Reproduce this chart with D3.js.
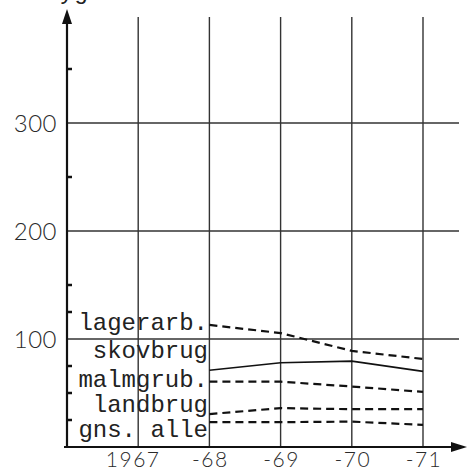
<!DOCTYPE html>
<html>
<head>
<meta charset="utf-8">
<script src="https://cdn.jsdelivr.net/npm/d3@7"></script>
<style>
  body { margin: 0; background: #fff; }
  svg { display: block; }
  .lbl { font-family: "Liberation Mono", "DejaVu Sans Mono", monospace; font-size: 24px; fill: #222; }
  .tick-lbl { font-family: Lato, "DejaVu Sans", sans-serif; font-weight: 300; fill: #2a2a2a; }
</style>
</head>
<body>
<svg id="chart" width="475" height="472"></svg>
<script>
// years on x, value on y
var years = [1968, 1969, 1970, 1971];
var gridYears = [1967, 1968, 1969, 1970, 1971];
var xLabels = ["1967", "-68", "-69", "-70", "-71"];
var yGrid = [100, 200, 300];
var yMinor = [25, 50, 75, 125, 150, 250, 350];

var series = ["lagerarb.", "skovbrug", "malmgrub.", "landbrug", "gns. alle"];
var lagerarb = [113, 105.5, 89, 81.5];
var skovbrug = [71, 78, 79.5, 70];
var malmgrub = [60.5, 60.5, 56, 51];
var landbrug = [30.5, 36, 35, 35];
var gnsAlle = [23, 23, 23.5, 20.5];
var seriesValues = [lagerarb, skovbrug, malmgrub, landbrug, gnsAlle];
var dashed = [true, false, true, true, true];
// label baselines given as values on the y scale
var labelAt = [108, 82, 56, 32, 9];

var svg = d3.select("#chart");

var x = d3.scaleLinear().domain([1966, 1971]).range([67, 423]);
var y = d3.scaleLinear().domain([0, 100]).range([447, 339]);

// cut-off title at the very top
svg.append("text")
    .attr("class", "lbl")
    .attr("x", 45)
    .attr("y", -1)
    .text("Sygefravær");

// vertical grid
svg.selectAll(".vgrid")
    .data(gridYears)
    .enter().append("line")
    .attr("x1", function(d) { return x(d); })
    .attr("x2", function(d) { return x(d); })
    .attr("y1", 17)
    .attr("y2", y(0))
    .attr("stroke", "#333")
    .attr("stroke-width", 1.4);

// horizontal grid
svg.selectAll(".hgrid")
    .data(yGrid)
    .enter().append("line")
    .attr("x1", x(1966))
    .attr("x2", 459)
    .attr("y1", function(d) { return y(d); })
    .attr("y2", function(d) { return y(d); })
    .attr("stroke", "#333")
    .attr("stroke-width", 1.4);

// minor ticks on the y axis
svg.selectAll(".minor")
    .data(yMinor)
    .enter().append("line")
    .attr("x1", x(1966))
    .attr("x2", x(1966) + 5)
    .attr("y1", function(d) { return y(d); })
    .attr("y2", function(d) { return y(d); })
    .attr("stroke", "#111")
    .attr("stroke-width", 2.5);

// axes with arrows
svg.append("line")
    .attr("x1", x(1966)).attr("x2", x(1966))
    .attr("y1", y(0)).attr("y2", 20)
    .attr("stroke", "#111").attr("stroke-width", 2.2);
svg.append("path")
    .attr("d", "M" + x(1966) + ",9 L" + (x(1966) - 5) + ",24 L" + (x(1966) + 5) + ",24 Z")
    .attr("fill", "#111");

svg.append("line")
    .attr("x1", 64).attr("x2", 456)
    .attr("y1", y(0)).attr("y2", y(0))
    .attr("stroke", "#111").attr("stroke-width", 2);
svg.append("path")
    .attr("d", "M467," + y(0) + " L451," + (y(0) - 5) + " L451," + (y(0) + 5) + " Z")
    .attr("fill", "#111");

// y tick labels
svg.selectAll(".ylab")
    .data(yGrid)
    .enter().append("text")
    .attr("class", "tick-lbl")
    .attr("x", 57)
    .attr("y", function(d) { return y(d) + 8.5; })
    .attr("text-anchor", "end")
    .attr("font-size", 24)
    .attr("letter-spacing", 0.5)
    .text(function(d) { return d; });

// x tick labels
svg.selectAll(".xlab")
    .data(gridYears)
    .enter().append("text")
    .attr("class", "tick-lbl")
    .attr("x", function(d, i) { return x(d) + (i == 0 ? -5 : 1); })
    .attr("y", 467)
    .attr("text-anchor", "middle")
    .attr("font-size", 21)
    .attr("letter-spacing", 1.5)
    .text(function(d, i) { return xLabels[i]; });

// series lines
var line = d3.line()
    .x(function(d, i) { return x(years[i]); })
    .y(function(d) { return y(d); });

svg.selectAll(".series")
    .data(seriesValues)
    .enter().append("path")
    .attr("d", line)
    .attr("fill", "none")
    .attr("stroke", "#111")
    .attr("stroke-width", function(d, i) { return dashed[i] ? 2.2 : 1.6; })
    .attr("stroke-dasharray", function(d, i) { return dashed[i] ? "8,5" : null; });

// series labels
svg.selectAll(".slab")
    .data(series)
    .enter().append("text")
    .attr("class", "lbl")
    .attr("x", 208)
    .attr("y", function(d, i) { return y(labelAt[i]); })
    .attr("text-anchor", "end")
    .text(function(d) { return d; });
</script>
</body>
</html>
